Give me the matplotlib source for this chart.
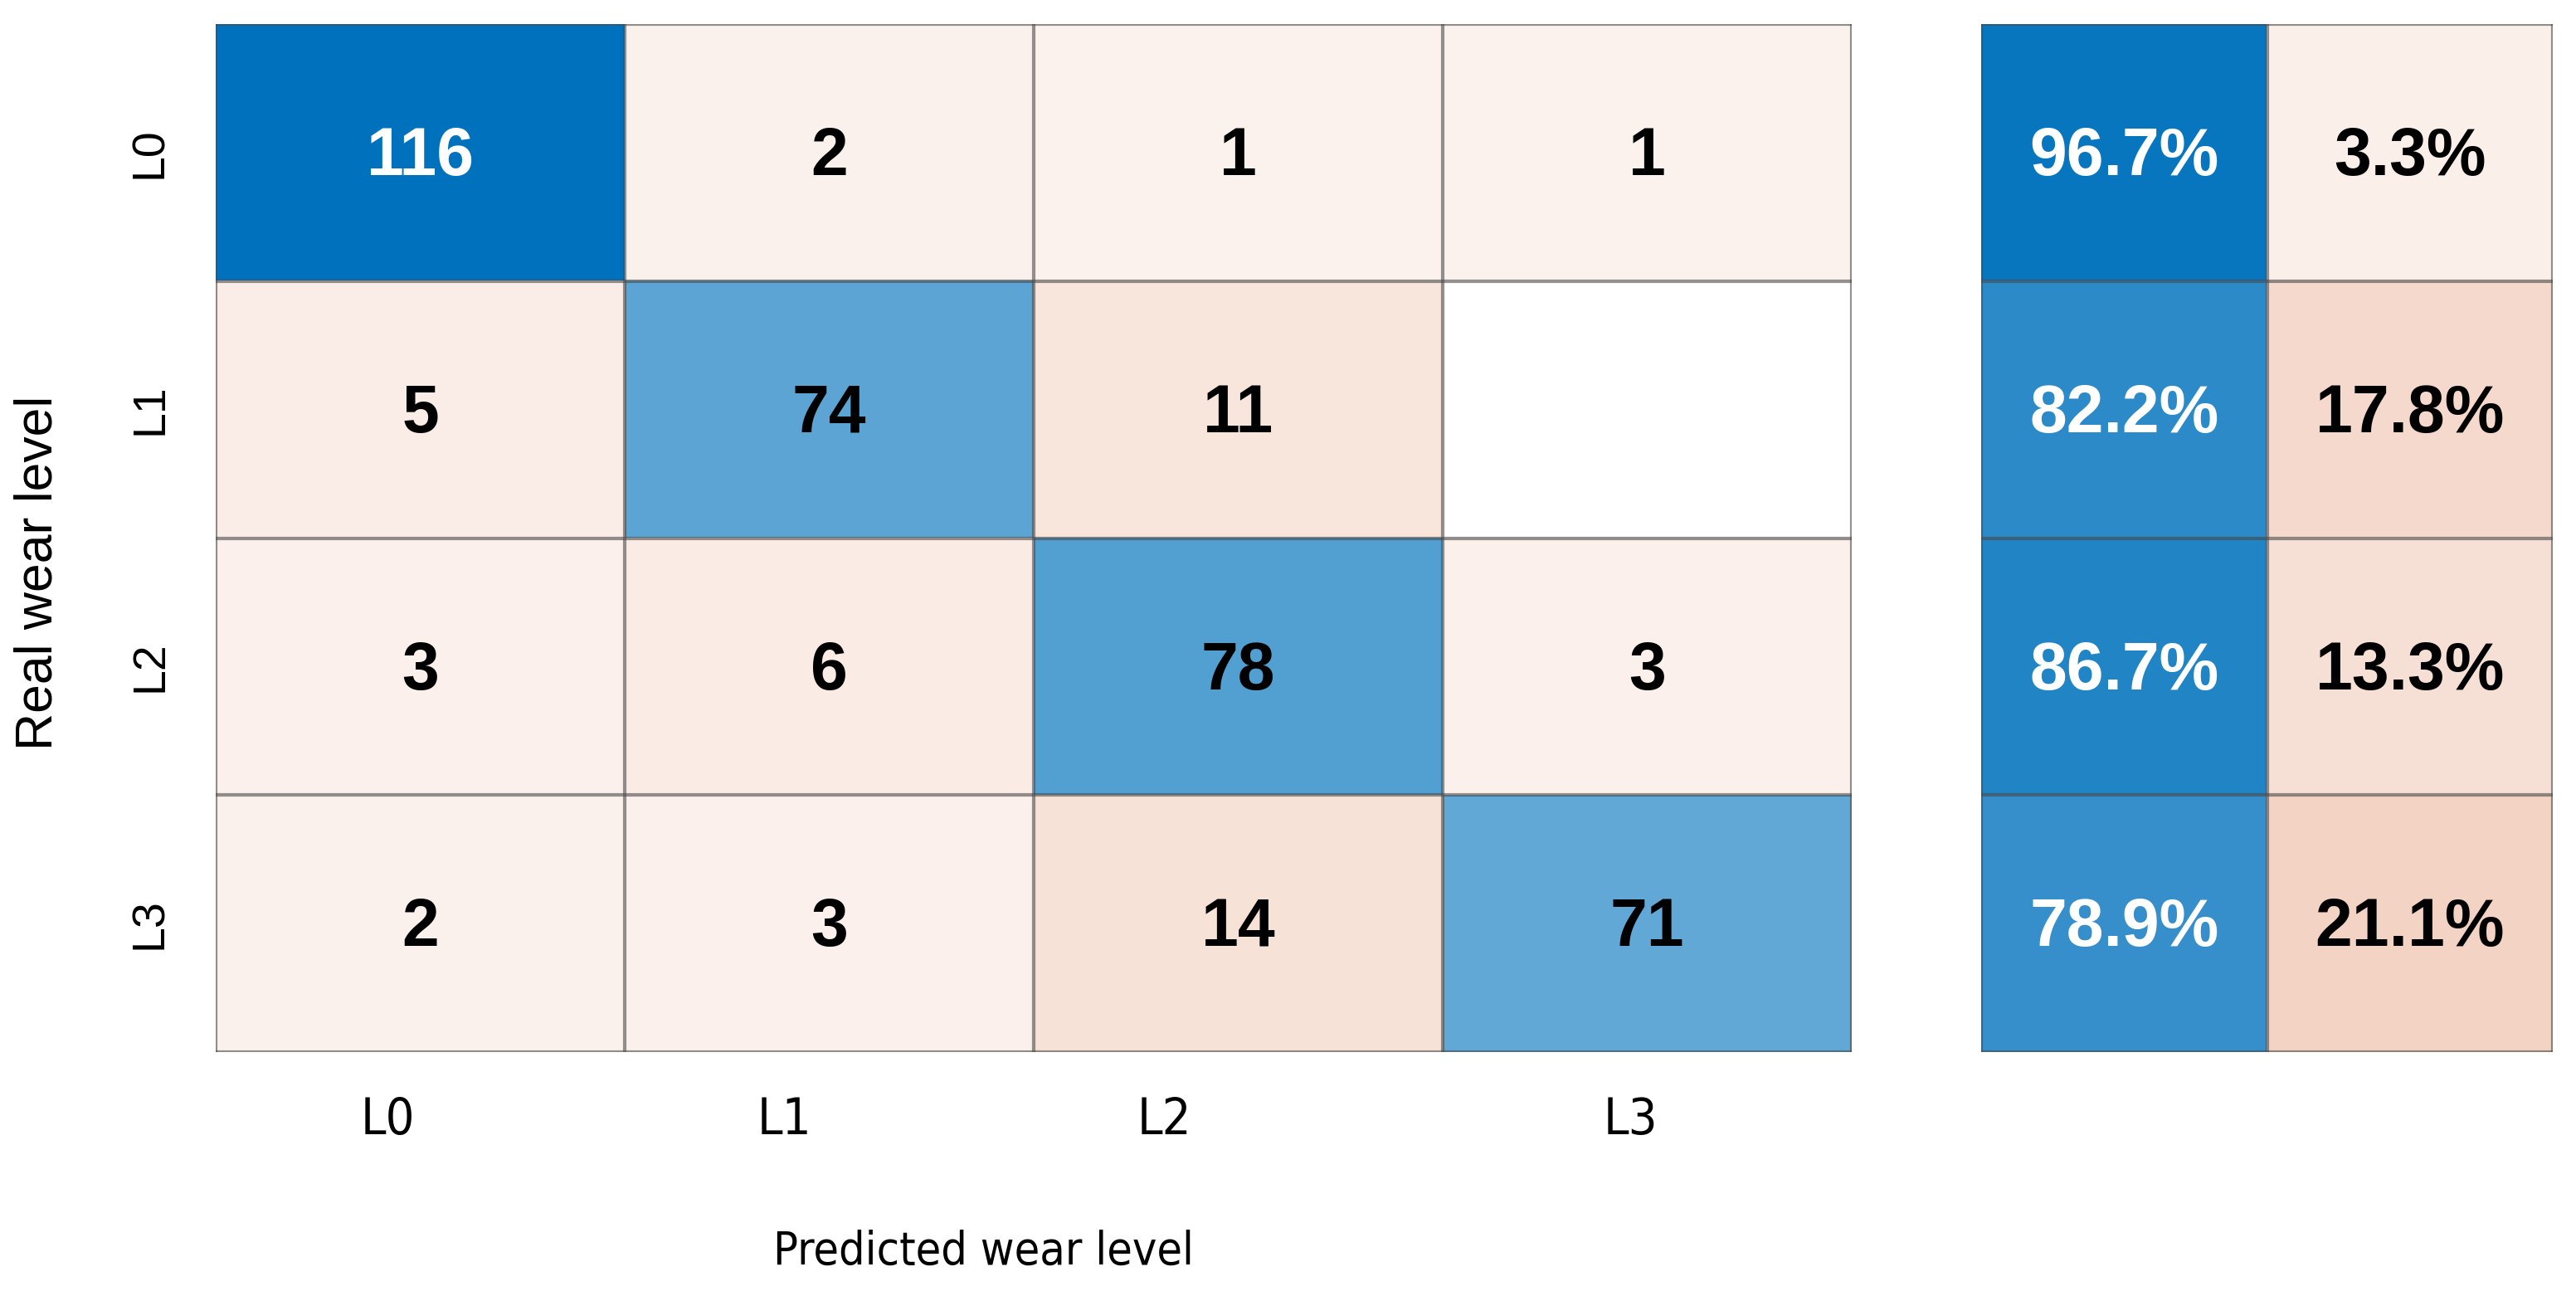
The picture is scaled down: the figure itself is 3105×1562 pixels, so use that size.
import numpy as np
import matplotlib
matplotlib.use("Agg")
import matplotlib.pyplot as plt
from matplotlib import font_manager
from matplotlib.font_manager import FontProperties
from matplotlib.colors import LinearSegmentedColormap

# 数据
levels = ["L0", "L1", "L2", "L3"]
row_L0 = [116, 2, 1, 1]
row_L1 = [5, 74, 11, 0]
row_L2 = [3, 6, 78, 3]
row_L3 = [2, 3, 14, 71]
pct_correct = [96.7, 82.2, 86.7, 78.9]
pct_wrong = [3.3, 17.8, 13.3, 21.1]

counts = np.array([row_L0, row_L1, row_L2, row_L3])

# 字体: 找一个窄体, 没有就用 Liberation Sans
plain = "Liberation Sans"
narrow_file = None
for f in font_manager.fontManager.ttflist:
    if f.name in ("Liberation Sans Narrow", "DejaVu Sans Condensed") or \
            (f.name == "DejaVu Sans" and "condensed" in str(f.stretch) and f.weight in (400, "normal")
             and f.style == "normal"):
        narrow_file = f.fname
        break


def narrow_font(size):
    if narrow_file:
        return FontProperties(fname=narrow_file, size=size)
    return FontProperties(family=plain, size=size * 0.9)


blue = LinearSegmentedColormap.from_list("cm_blue", ["#FFFFFF", "#0072BD"])
red = LinearSegmentedColormap.from_list("cm_red", ["#FCF4F0", "#D65C24"])


def cell_colors(values, diag_mask, vmax):
    rgba = np.ones(values.shape + (4,))
    for i in range(values.shape[0]):
        for j in range(values.shape[1]):
            v = values[i, j]
            if v == 0:
                continue
            if diag_mask[i, j]:
                rgba[i, j] = blue(v / vmax)
            else:
                rgba[i, j] = red(v / vmax)
    return rgba


def draw_grid(ax, nrows, ncols):
    for k in range(nrows + 1):
        ax.axhline(k - 0.5, color="#4a4a4a", alpha=0.6, lw=3)
    for k in range(ncols + 1):
        ax.axvline(k - 0.5, color="#4a4a4a", alpha=0.6, lw=3)


fig = plt.figure(figsize=(31.05, 15.62), dpi=100)

# 混淆矩阵
ax = fig.add_axes([260 / 3105, 1 - 1268 / 1562, 1972 / 3105, 1239 / 1562])
n = len(levels)
ax.imshow(cell_colors(counts, np.eye(n, dtype=bool), counts.max()), aspect="auto",
          interpolation="nearest")
draw_grid(ax, n, n)
for i in range(n):
    for j in range(n):
        v = counts[i, j]
        if v == 0:
            continue
        ax.text(j, i + 0.02, str(v), ha="center", va="center", fontsize=58, fontweight="bold",
                family=plain, color="white" if (i == j and v == counts.max()) else "black")

ax.set_yticks(range(n))
ax.set_yticklabels(levels, rotation=90, va="center", fontsize=40, family=plain)
ax.set_xticks([-0.08, 0.89, 1.82, 2.96])
ax.set_xticklabels(levels)
for t in ax.get_xticklabels():
    t.set_fontproperties(narrow_font(44))
ax.tick_params(length=0, pad=38)
ax.tick_params(axis="y", pad=38)
for s in ax.spines.values():
    s.set_visible(False)

fig.text(46 / 3105, 1 - 690 / 1562, "Real wear level", rotation=90, ha="center",
         va="center", fontsize=45, family=plain)
fig.text(1185 / 3105, 1 - 1509 / 1562, "Predicted wear level", ha="center",
         va="center", fontproperties=narrow_font(40))

# 行汇总
ax2 = fig.add_axes([2388 / 3105, 1 - 1268 / 1562, 689 / 3105, 1239 / 1562])
summary = np.column_stack([pct_correct, pct_wrong])
mask = np.zeros(summary.shape, dtype=bool)
mask[:, 0] = True
ax2.imshow(cell_colors(summary, mask, 100.0), aspect="auto", interpolation="nearest")
draw_grid(ax2, n, 2)
for i in range(n):
    for j in range(2):
        ax2.text(j, i + 0.02, f"{summary[i, j]:.1f}%", ha="center", va="center", fontsize=58,
                 fontweight="bold", family=plain, color="white" if j == 0 else "black")
ax2.set_xticks([])
ax2.set_yticks([])
for s in ax2.spines.values():
    s.set_visible(False)

fig.savefig("out.png", dpi=100)
